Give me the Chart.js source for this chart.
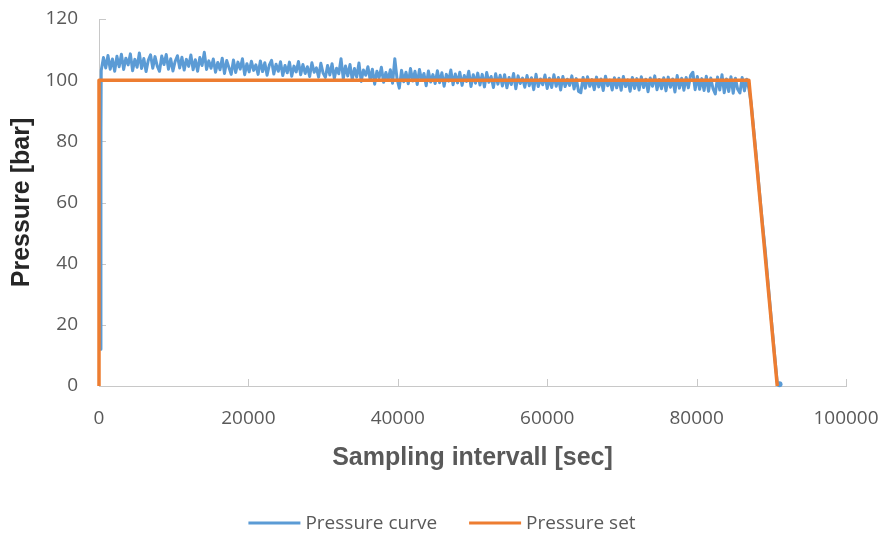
<!DOCTYPE html>
<html>
<head>
<meta charset="utf-8">
<script src="https://cdn.jsdelivr.net/npm/chart.js@4.4.1/dist/chart.umd.min.js"></script>
<style>
  html, body { margin: 0; padding: 0; background: #ffffff; }
  #wrap { width: 884px; height: 537px; position: relative; }
</style>
</head>
<body>
<div id="wrap"><canvas id="chart" width="884" height="537"></canvas></div>
<script>
// Measured pressure: sampling time [sec]
const curveTime = [
  200, 260,
  300, 600, 900, 1200, 1500, 1800, 2100, 2400, 2700, 3000,
  3300, 3600, 3900, 4200, 4500, 4800, 5100, 5400, 5700, 6000,
  6300, 6600, 6900, 7200, 7500, 7800, 8100, 8400, 8700, 9000,
  9300, 9600, 9900, 10200, 10500, 10800, 11100, 11400, 11700, 12000,
  12300, 12600, 12900, 13200, 13500, 13800, 14100, 14400, 14700, 15000,
  15300, 15600, 15900, 16200, 16500, 16800, 17100, 17400, 17700, 18000,
  18300, 18600, 18900, 19200, 19500, 19800, 20100, 20400, 20700, 21000,
  21300, 21600, 21900, 22200, 22500, 22800, 23100, 23400, 23700, 24000,
  24300, 24600, 24900, 25200, 25500, 25800, 26100, 26400, 26700, 27000,
  27300, 27600, 27900, 28200, 28500, 28800, 29100, 29400, 29700, 30000,
  30300, 30600, 30900, 31200, 31500, 31800, 32100, 32400, 32700, 33000,
  33300, 33600, 33900, 34200, 34500, 34800, 35100, 35400, 35700, 36000,
  36300, 36600, 36900, 37200, 37500, 37800, 38100, 38400, 38700, 39000,
  39300, 39600, 39900, 40200, 40500, 40800, 41100, 41400, 41700, 42000,
  42300, 42600, 42900, 43200, 43500, 43800, 44100, 44400, 44700, 45000,
  45300, 45600, 45900, 46200, 46500, 46800, 47100, 47400, 47700, 48000,
  48300, 48600, 48900, 49200, 49500, 49800, 50100, 50400, 50700, 51000,
  51300, 51600, 51900, 52200, 52500, 52800, 53100, 53400, 53700, 54000,
  54300, 54600, 54900, 55200, 55500, 55800, 56100, 56400, 56700, 57000,
  57300, 57600, 57900, 58200, 58500, 58800, 59100, 59400, 59700, 60000,
  60300, 60600, 60900, 61200, 61500, 61800, 62100, 62400, 62700, 63000,
  63300, 63600, 63900, 64200, 64500, 64800, 65100, 65400, 65700, 66000,
  66300, 66600, 66900, 67200, 67500, 67800, 68100, 68400, 68700, 69000,
  69300, 69600, 69900, 70200, 70500, 70800, 71100, 71400, 71700, 72000,
  72300, 72600, 72900, 73200, 73500, 73800, 74100, 74400, 74700, 75000,
  75300, 75600, 75900, 76200, 76500, 76800, 77100, 77400, 77700, 78000,
  78300, 78600, 78900, 79200, 79500, 79800, 80100, 80400, 80700, 81000,
  81300, 81600, 81900, 82200, 82500, 82800, 83100, 83400, 83700, 84000,
  84300, 84600, 84900, 85200, 85500, 85800, 86100, 86400, 86700, 87000,
  87300, 87600, 88000, 88400, 88800, 89200, 89600, 90000, 90400, 90800, 91100
];
// Measured pressure: pressure [bar]
const curvePressure = [
  12.0, 83.0,
  103.2, 107.4, 104.0, 108.1, 103.6, 106.9, 102.9, 107.8, 104.4, 108.5,
  103.5, 107.2, 105.0, 108.6, 103.1, 106.8, 104.2, 108.9, 103.8, 107.1,
  102.8, 106.5, 108.3, 103.9, 107.7, 104.6, 102.9, 107.9, 105.1, 108.4,
  103.6, 107.0, 103.0, 106.2, 108.0, 104.0, 107.5, 103.3, 106.8, 104.5,
  108.2, 103.4, 106.7, 102.9, 107.4, 104.8, 109.1, 103.5, 106.3, 103.9,
  106.9, 102.6, 105.8, 103.4, 107.2, 102.2, 106.4, 104.1, 101.9, 106.6,
  102.5, 105.9, 103.6, 107.0, 101.8, 105.4, 102.7, 106.2, 103.2, 105.0,
  101.9, 106.3, 102.8, 105.7, 101.6, 104.9, 106.5, 102.0, 105.2, 102.9,
  106.0, 101.5, 104.8, 102.4, 105.9, 101.3, 104.6, 102.7, 106.1, 101.8,
  105.1, 102.2, 104.4, 101.2, 105.7, 102.6, 104.0, 101.0, 105.5, 102.3,
  100.9, 104.8, 101.7, 105.4, 100.6, 103.9, 102.1, 107.0, 100.5, 104.6,
  101.4, 105.1, 100.2, 103.8, 101.0, 105.6, 99.6, 103.3, 101.6, 104.4,
  100.1, 103.6, 98.7, 102.9, 100.8, 104.2, 99.3, 102.5, 100.0, 103.4,
  99.0, 107.0, 100.4, 97.4, 103.2, 99.5, 102.6, 98.8, 103.8, 99.7,
  102.9, 98.6, 103.5, 99.9, 102.2, 98.2, 103.0, 99.4, 101.8, 98.9,
  103.1, 99.2, 102.4, 98.0, 101.9, 99.7, 103.3, 98.5, 102.0, 99.1,
  102.6, 98.3, 101.5, 99.6, 102.9, 97.9, 101.8, 99.0, 102.3, 98.4,
  101.9, 97.8, 102.5, 99.3, 101.2, 97.6, 102.1, 98.7, 101.6, 98.1,
  101.8, 97.5, 100.9, 98.6, 102.2, 97.2, 101.4, 98.9, 100.7, 97.7,
  101.5, 98.2, 100.8, 96.9, 101.9, 97.9, 100.4, 98.5, 101.7, 97.3,
  100.6, 97.6, 101.8, 98.0, 100.9, 96.8, 101.2, 97.9, 100.3, 98.3,
  101.4, 97.1, 100.5, 96.3, 95.9, 100.9, 97.4, 101.1, 98.0, 100.2,
  96.9, 101.0, 97.8, 100.4, 96.6, 101.3, 98.2, 100.0, 96.8, 100.8,
  97.5, 100.6, 96.7, 101.2, 97.9, 100.1, 96.4, 100.9, 97.3, 100.5,
  96.8, 101.1, 97.6, 100.3, 96.2, 100.7, 98.0, 101.4, 96.9, 100.2,
  97.2, 100.8, 96.5, 101.0, 97.7, 100.4, 96.1, 101.5, 97.4, 100.6,
  96.7, 100.9, 97.5, 101.6, 102.6, 96.9, 101.2, 97.0, 100.5, 96.6,
  101.3, 96.4, 100.7, 97.2, 95.5, 101.0, 96.8, 101.8, 95.9, 100.4,
  96.3, 101.1, 95.7, 100.6, 97.0, 95.8, 100.9, 96.5, 100.3, 97.2,
  92.5, 84.9, 74.8, 63.9, 53.6, 44.0, 32.8, 21.9, 11.2, 1.0, 0.6
];

// Pressure set point profile
const setTime = [0, 0, 87000, 90800];
const setPressure = [0, 100, 100, 0];

// Axis tick values
const xTicks = [0, 20000, 40000, 60000, 80000, 100000];
const yTicks = [0, 20, 40, 60, 80, 100, 120];

const seriesNames = ['Pressure curve', 'Pressure set'];
const seriesColors = ['#5B9BD5', '#ED7D31'];

const toPoints = (xs, ys) => xs.map((x, i) => ({ x, y: ys[i] }));

const TEXT = '#595959';
const AXIS = '#C8C8C8';
const tickFont = { family: '"Open Sans", "Liberation Sans", sans-serif', size: 19 };
const titleFont = { family: '"Liberation Sans", Arial, sans-serif', size: 25, weight: 'bold' };

// Short tick marks pointing into the plot area
const innerTicks = {
  id: 'innerTicks',
  beforeDatasetsDraw(chart) {
    const { ctx, scales: { x, y } } = chart;
    ctx.save();
    ctx.strokeStyle = AXIS;
    ctx.lineWidth = 1;
    ctx.beginPath();
    x.ticks.forEach(t => {
      const px = Math.round(x.getPixelForValue(t.value)) + 0.5;
      ctx.moveTo(px, y.bottom);
      ctx.lineTo(px, y.bottom - 7);
    });
    y.ticks.forEach(t => {
      const py = Math.round(y.getPixelForValue(t.value)) + 0.5;
      ctx.moveTo(x.left, py);
      ctx.lineTo(x.left + 7, py);
    });
    ctx.stroke();
    ctx.restore();
  }
};

// Legend row under the x-axis title
const bottomLegend = {
  id: 'bottomLegend',
  afterDraw(chart) {
    const { ctx, width } = chart;
    const lineLen = 52, gap = 5, itemGap = 32, cy = 523;
    ctx.save();
    ctx.font = `${tickFont.size}px ${tickFont.family}`;
    ctx.textBaseline = 'middle';
    ctx.textAlign = 'left';
    const widths = seriesNames.map(n => lineLen + gap + ctx.measureText(n).width);
    const total = widths.reduce((a, b) => a + b, 0) + itemGap * (widths.length - 1);
    let x = (width - total) / 2;
    seriesNames.forEach((name, i) => {
      ctx.strokeStyle = seriesColors[i];
      ctx.lineWidth = 3;
      ctx.beginPath();
      ctx.moveTo(x, cy);
      ctx.lineTo(x + lineLen, cy);
      ctx.stroke();
      ctx.fillStyle = TEXT;
      ctx.fillText(name, x + lineLen + gap, cy + 1);
      x += widths[i] + itemGap;
    });
    ctx.restore();
  }
};

// Invisible tick marks only reserve the gap between axis and labels
const hiddenGrid = len => ({
  display: true,
  color: 'rgba(0,0,0,0)',
  drawOnChartArea: false,
  drawTicks: true,
  tickLength: len
});

new Chart(document.getElementById('chart'), {
  type: 'scatter',
  data: {
    datasets: [
      {
        label: seriesNames[0],
        data: toPoints(curveTime, curvePressure),
        showLine: true,
        borderColor: seriesColors[0],
        backgroundColor: seriesColors[0],
        borderWidth: 3,
        borderJoinStyle: 'round',
        borderCapStyle: 'round',
        pointRadius: ctx => (ctx.dataIndex === curveTime.length - 1 ? 3 : 0),
        pointBorderWidth: 0,
        tension: 0,
        clip: 6,
        order: 1
      },
      {
        label: seriesNames[1],
        data: toPoints(setTime, setPressure),
        showLine: true,
        borderColor: seriesColors[1],
        backgroundColor: seriesColors[1],
        borderWidth: 3.5,
        pointRadius: 0,
        tension: 0,
        borderJoinStyle: 'round',
        clip: 6,
        order: 0
      }
    ]
  },
  options: {
    responsive: false,
    animation: false,
    events: [],
    layout: { padding: { left: 0, right: 38, top: 19, bottom: 55 } },
    plugins: {
      legend: { display: false },
      tooltip: { enabled: false }
    },
    scales: {
      x: {
        type: 'linear',
        min: xTicks[0],
        max: xTicks[xTicks.length - 1],
        afterFit(s) { s.height = 96; },
        afterBuildTicks(s) { s.ticks = xTicks.map(v => ({ value: v })); },
        grid: hiddenGrid(21),
        border: { display: true, color: AXIS, width: 1 },
        ticks: {
          color: TEXT,
          font: tickFont,
          padding: 0,
          maxRotation: 0,
          callback: v => String(v)
        },
        title: {
          display: true,
          text: 'Sampling intervall [sec]',
          color: TEXT,
          font: titleFont,
          padding: { top: 4, bottom: 9 }
        }
      },
      y: {
        type: 'linear',
        min: yTicks[0],
        max: yTicks[yTicks.length - 1],
        afterFit(s) { s.width = 99; },
        afterBuildTicks(s) { s.ticks = yTicks.map(v => ({ value: v })); },
        grid: hiddenGrid(21),
        border: { display: true, color: AXIS, width: 1 },
        ticks: {
          color: TEXT,
          font: tickFont,
          padding: 0,
          callback: v => String(v)
        },
        title: {
          display: true,
          text: 'Pressure [bar]',
          color: '#262626',
          font: titleFont,
          padding: { top: 7, bottom: 0 }
        }
      }
    }
  },
  plugins: [innerTicks, bottomLegend]
});
</script>
</body>
</html>
